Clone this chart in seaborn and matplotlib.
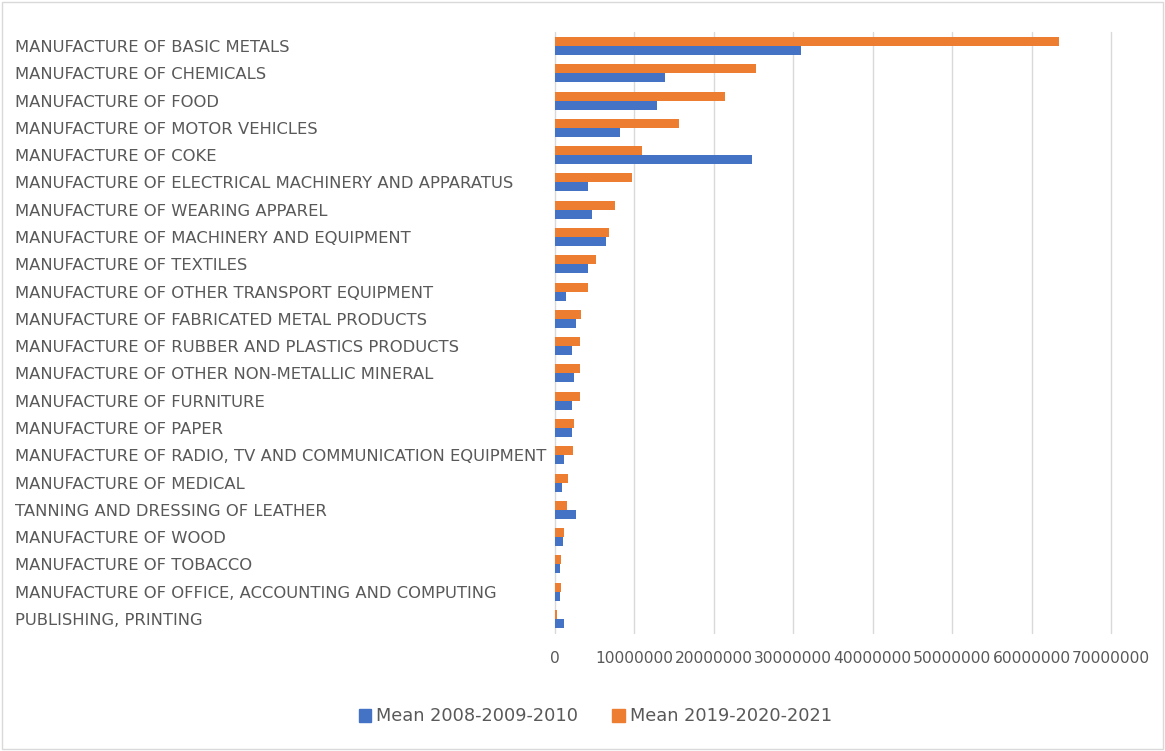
import matplotlib
matplotlib.use("Agg")
import matplotlib.pyplot as plt
import matplotlib.patches as mpatches
import seaborn as sns
import pandas as pd

# Industry categories, top to bottom
categories = [
    "MANUFACTURE OF BASIC METALS",
    "MANUFACTURE OF CHEMICALS",
    "MANUFACTURE OF FOOD",
    "MANUFACTURE OF MOTOR VEHICLES",
    "MANUFACTURE OF COKE",
    "MANUFACTURE OF ELECTRICAL MACHINERY AND APPARATUS",
    "MANUFACTURE OF WEARING APPAREL",
    "MANUFACTURE OF MACHINERY AND EQUIPMENT",
    "MANUFACTURE OF TEXTILES",
    "MANUFACTURE OF OTHER TRANSPORT EQUIPMENT",
    "MANUFACTURE OF FABRICATED METAL PRODUCTS",
    "MANUFACTURE OF RUBBER AND PLASTICS PRODUCTS",
    "MANUFACTURE OF OTHER NON-METALLIC MINERAL",
    "MANUFACTURE OF FURNITURE",
    "MANUFACTURE OF PAPER",
    "MANUFACTURE OF RADIO, TV AND COMMUNICATION EQUIPMENT",
    "MANUFACTURE OF MEDICAL",
    "TANNING AND DRESSING OF LEATHER",
    "MANUFACTURE OF WOOD",
    "MANUFACTURE OF TOBACCO",
    "MANUFACTURE OF OFFICE, ACCOUNTING AND COMPUTING",
    "PUBLISHING, PRINTING",
]

mean_2008_2010 = [
    31000000, 13900000, 12900000, 8200000, 24800000, 4100000, 4600000,
    6400000, 4100000, 1400000, 2600000, 2100000, 2400000, 2200000,
    2100000, 1100000, 900000, 2600000, 1000000, 600000, 600000, 1100000,
]

mean_2019_2021 = [
    63500000, 25300000, 21400000, 15600000, 10900000, 9700000, 7600000,
    6800000, 5200000, 4100000, 3300000, 3200000, 3200000, 3200000,
    2400000, 2300000, 1600000, 1550000, 1100000, 700000, 700000, 300000,
]

series_names = ["Mean 2008-2009-2010", "Mean 2019-2020-2021"]
series_colors = {"Mean 2008-2009-2010": "#4472C4", "Mean 2019-2020-2021": "#ED7D31"}

x_ticks = [0, 10000000, 20000000, 30000000, 40000000, 50000000, 60000000, 70000000]

df = pd.DataFrame({
    "category": categories * 2,
    "value": mean_2008_2010 + mean_2019_2021,
    "series": [series_names[0]] * len(categories) + [series_names[1]] * len(categories),
})

sns.set_theme(style="white")
plt.rcParams["font.family"] = ["DejaVu Sans"]

text_color = "#595959"

fig = plt.figure(figsize=(11.65, 7.51), dpi=100)
ax = fig.add_axes([0.4764, 0.1576, 0.4772, 0.7993])

sns.barplot(
    data=df, y="category", x="value", hue="series",
    order=categories, hue_order=[series_names[1], series_names[0]],
    palette=series_colors, orient="h", width=0.66, ax=ax,
    saturation=1, legend=False, linewidth=0,
)

ax.set_xlim(0, 70000000)
ax.set_xticks(x_ticks)
ax.set_xticklabels([str(t) for t in x_ticks], fontsize=11.2, color=text_color)
ax.grid(axis="x", color="#D9D9D9", linewidth=1)
for gl in ax.get_xgridlines():
    gl.set_clip_on(False)
ax.set_axisbelow(True)
ax.set_xlabel("")
ax.set_ylabel("")
for s in ax.spines.values():
    s.set_visible(False)
ax.tick_params(axis="x", length=0, pad=13)
ax.tick_params(axis="y", length=0, pad=0)
ax.set_yticks(range(len(categories)))
ax.set_yticklabels(categories, fontsize=11.8, color=text_color, ha="left")
for lbl in ax.get_yticklabels():
    lbl.set_x(-0.4764 / 0.4772 + 15 / 556)

handles = [mpatches.Patch(color=series_colors[n], label=n) for n in series_names]
fig.legend(
    handles=handles, loc="center", bbox_to_anchor=(0.511, 0.046),
    ncol=2, frameon=False, fontsize=12.8, handlelength=0.7, handleheight=0.75,
    handletextpad=0.3, columnspacing=1.9, labelcolor=text_color,
)

# Light chart-area border
fig.patches.append(mpatches.Rectangle(
    (0.0015, 0.003), 0.997, 0.994, transform=fig.transFigure,
    fill=False, edgecolor="#D9D9D9", linewidth=1,
))

fig.savefig("out.png", dpi=100)
